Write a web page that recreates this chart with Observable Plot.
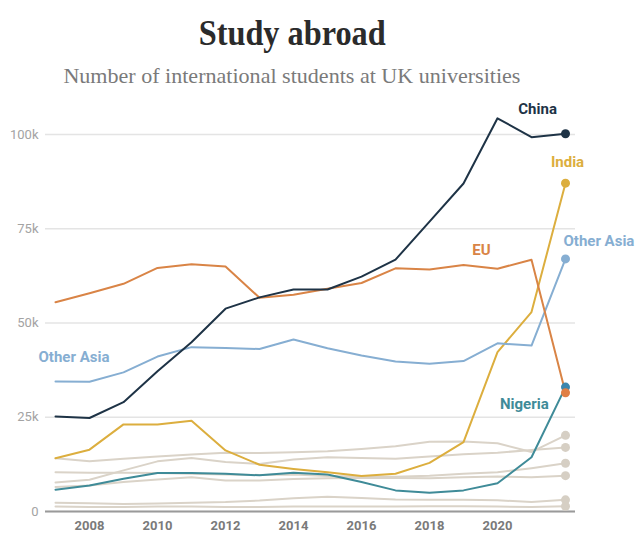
<!DOCTYPE html>
<html><head><meta charset="utf-8">
<script src="https://cdn.jsdelivr.net/npm/d3@7"></script>
<script src="https://cdn.jsdelivr.net/npm/@observablehq/plot@0.6"></script>
<style>
body{margin:0;background:#fff;width:640px;overflow:hidden;}
#head{height:95px;position:relative;}
#title{position:absolute;left:0;width:584px;top:15px;text-align:center;font-family:"Liberation Serif",serif;font-weight:bold;font-size:36px;color:#2b2b2b;line-height:1;}
#title span,#sub span{display:inline-block;transform-origin:center;}
#sub{position:absolute;left:0;width:584px;top:65px;text-align:center;font-family:"Liberation Serif",serif;font-size:22px;color:#7a7a7a;line-height:1;}
</style></head><body>
<div id="head"><div id="title"><span>Study abroad</span></div><div id="sub"><span>Number of international students at UK universities</span></div></div>
<div id="chart"></div>
<script>
// values in thousands of students
const years = [2007,2008,2009,2010,2011,2012,2013,2014,2015,2016,2017,2018,2019,2020,2021,2022];
const china     = [25.2,24.8,29.0,37.2,44.9,53.8,56.8,58.9,58.9,62.3,66.8,76.9,87.0,104.3,99.3,100.2];
const eu        = [55.5,57.9,60.4,64.6,65.6,65.0,56.7,57.5,59.1,60.6,64.5,64.2,65.4,64.4,66.8,31.5];
const india     = [14.1,16.4,23.1,23.1,24.1,16.2,12.4,11.3,10.4,9.4,10.0,12.9,18.4,42.3,52.9,87.1];
const otherAsia = [34.5,34.4,36.9,41.1,43.6,43.4,43.1,45.6,43.3,41.4,39.8,39.2,39.9,44.6,44.0,67.0];
const nigeria   = [5.8,6.9,8.7,10.2,10.2,10.0,9.6,10.3,9.8,7.8,5.6,5.0,5.6,7.5,14.4,33.0];
const otherA = [14.1,13.3,14.0,14.6,15.1,15.6,15.5,15.7,16.0,16.6,17.3,18.5,18.6,18.1,15.8,20.2];
const otherB = [10.4,10.3,10.3,10.2,10.0,9.8,9.7,9.8,9.4,9.3,9.2,9.5,10.0,10.4,11.5,12.8];
const otherC = [7.7,8.4,10.9,13.3,14.2,13.1,12.6,13.8,14.4,14.2,14.0,14.6,15.2,15.6,16.3,17.0];
const otherD = [6.5,6.9,7.8,8.5,9.1,8.2,8.2,8.6,8.8,8.9,8.9,8.8,9.1,9.3,9.1,9.5];
const otherE = [2.3,2.2,2.0,2.1,2.3,2.5,2.9,3.5,3.9,3.6,3.2,3.1,3.1,3.0,2.5,3.1];
const otherF = [1.3,1.2,1.2,1.3,1.3,1.2,1.2,1.3,1.3,1.3,1.3,1.4,1.4,1.3,1.2,1.4];
const yTicks = [0,25,50,75,100];
const xTicks = [2008,2010,2012,2014,2016,2018,2020];
// label anchors (year, thousands)
const labelText  = ["China","India","EU","Other Asia","Other Asia","Nigeria"];
const labelYear  = [2021.18,2022.06,2019.53,2021.94,2006.5,2020.79];
const labelValue = [106.6,92.6,69.2,71.6,40.8,28.4];
const labelKey   = ["China","India","EU","Other Asia","Other Asia","Nigeria"];

const colors = {"China":"#1e3346","EU":"#d98446","India":"#dcae3e","Other Asia":"#86aed2","Nigeria":"#3f8b98","gray":"#dad3c8"};
const dotColors = {"China":"#1e3346","EU":"#e07f45","India":"#dcae3e","Other Asia":"#86aed2","Nigeria":"#3c86ad","gray":"#d6cfc4"};
const anchors = ["middle","middle","middle","start","start","middle"];

const grays = [otherA,otherB,otherC,otherD,otherE,otherF];
const mains = [["Nigeria",nigeria],["India",india],["Other Asia",otherAsia],["EU",eu],["China",china]];
const rows = (name, vals) => years.map((yr,i)=>({series:name, year:yr, value:vals[i]}));

const marks = [
  Plot.gridY(yTicks, {stroke:"#e4e4e4", strokeOpacity:1, strokeWidth:1.3}),
  Plot.ruleY([0], {stroke:"#9a9a9a", strokeWidth:2})
];
grays.forEach((g,k)=>{
  const r = rows("gray"+k, g);
  marks.push(Plot.line(r, {x:"year", y:"value", stroke:colors.gray, strokeWidth:2}));
  marks.push(Plot.dot(r.slice(-1), {x:"year", y:"value", fill:dotColors.gray, r:4.5}));
});
mains.forEach(([n,v])=>{
  const r = rows(n, v);
  marks.push(Plot.line(r, {x:"year", y:"value", stroke:colors[n], strokeWidth:2}));
});
mains.forEach(([n,v])=>{
  const r = rows(n, v);
  marks.push(Plot.dot(r.slice(-1), {x:"year", y:"value", fill:dotColors[n], r:4.5}));
});
const labels = labelText.map((t,i)=>({text:t, year:labelYear[i], value:labelValue[i], key:labelKey[i], i}));
["middle","start"].forEach(a=>{
  marks.push(Plot.text(labels.filter(d=>anchors[d.i]===a), {x:"year", y:"value", text:"text", fill:d=>colors[d.key], textAnchor:a, fontSize:15, fontWeight:"bold"}));
});
marks.push(Plot.axisY(yTicks, {tickSize:0, tickPadding:7, tickFormat:d=>d===0?"0":d+"k", fontSize:13, color:"#a3a3a3", label:null}));
marks.push(Plot.axisX(xTicks, {tickSize:0, tickPadding:9, tickFormat:d=>String(d), fontSize:13, fontWeight:"bold", color:"#7a7a7a", label:null}));

const chart = Plot.plot({
  width:640, height:452,
  marginLeft:45, marginRight:65, marginTop:39, marginBottom:36,
  style:{fontFamily:"Roboto, sans-serif", background:"#fff", overflow:"visible"},
  x:{domain:[2007,2022], inset:10},
  y:{domain:[0,100]},
  marks
});
document.getElementById("chart").appendChild(chart);

// fit title widths
function fit(sel, target){
  const s = document.querySelector(sel);
  const w = s.getBoundingClientRect().width;
  s.style.transform = "scaleX(" + (target/w) + ")";
}
fit("#title span", 187);
fit("#sub span", 457);
</script>
</body></html>
